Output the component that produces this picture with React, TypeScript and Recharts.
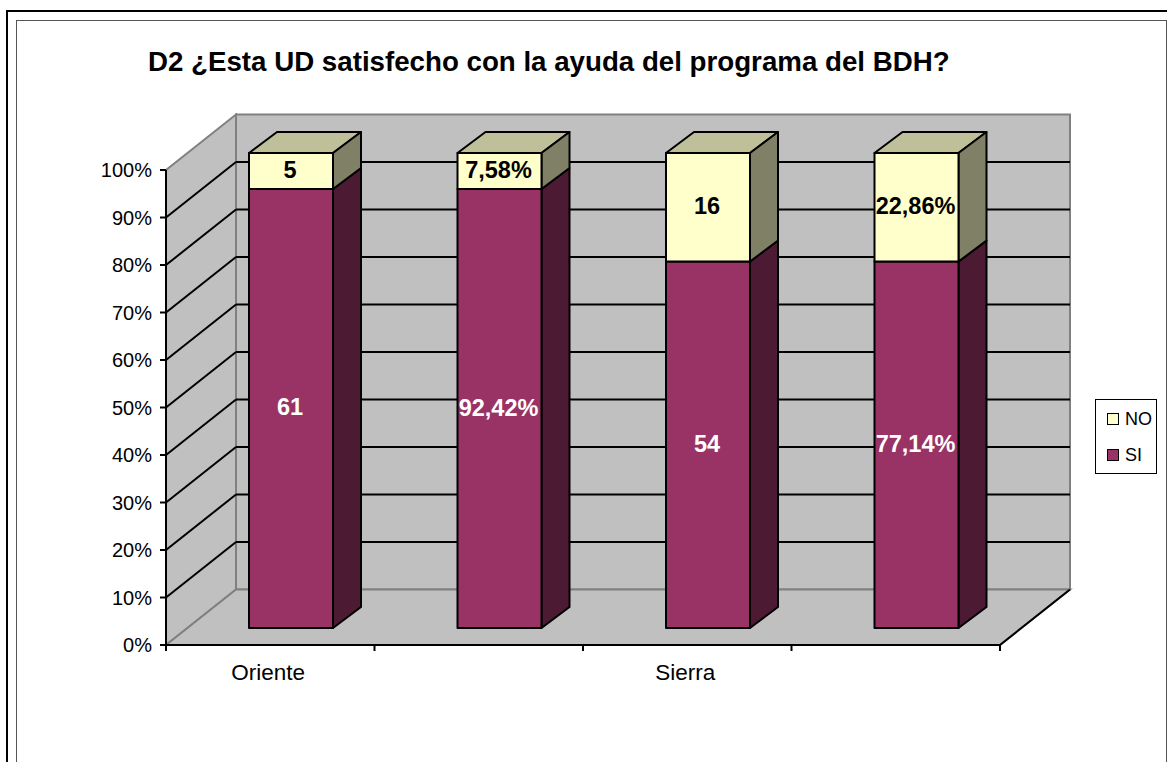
import React from 'react';
import {
  BarChart,
  Bar,
  XAxis,
  YAxis,
  CartesianGrid,
  Legend,
  LabelList,
} from 'recharts';

const categories = ['Oriente', '', 'Sierra', ''];
const siValues = [61, 92.42, 54, 77.14];
const noValues = [5, 7.58, 16, 22.86];
const siLabels = ['61', '92,42%', '54', '77,14%'];
const noLabels = ['5', '7,58%', '16', '22,86%'];
const yTicks = [0, 0.1, 0.2, 0.3, 0.4, 0.5, 0.6, 0.7, 0.8, 0.9, 1];

const chartData = categories.map((name, i) => ({
  name,
  SI: siValues[i],
  NO: noValues[i],
  siLabel: siLabels[i],
  noLabel: noLabels[i],
}));

const FONT = '"Liberation Sans", Arial, sans-serif';

// front plane of the fake 3D box
const LEFT = 166;
const RIGHT = 1000;
const TOP = 170;
const BOTTOM = 645;
const BAND = (RIGHT - LEFT) / categories.length;
// wall depth and where the bars sit inside it
const DEPTH_X = 70;
const DEPTH_Y = 55.5;
const BAR_SHIFT_X = 21;
const BAR_SHIFT_Y = 17;
const BAR_DEPTH_X = 28;
const BAR_DEPTH_Y = 21;

const COLORS = {
  si: '#993366',
  siSide: '#4C1A33',
  no: '#FFFFCC',
  noTop: '#BFBF99',
  noSide: '#808066',
  wall: '#C0C0C0',
  wallEdge: '#808080',
};

// sits in its own svg behind the transparent chart
const Walls = () => (
  <svg width={1167} height={762} style={{ position: 'absolute', left: 0, top: 0 }}>
    <polygon
      points={`${LEFT},${TOP} ${LEFT + DEPTH_X},${TOP - DEPTH_Y} ${LEFT + DEPTH_X},${BOTTOM - DEPTH_Y} ${LEFT},${BOTTOM}`}
      fill={COLORS.wall}
      stroke={COLORS.wallEdge}
      strokeWidth={2}
    />
    <rect
      x={LEFT + DEPTH_X}
      y={TOP - DEPTH_Y}
      width={RIGHT - LEFT}
      height={BOTTOM - TOP}
      fill={COLORS.wall}
      stroke={COLORS.wallEdge}
      strokeWidth={2}
    />
    <polygon
      points={`${LEFT},${BOTTOM} ${LEFT + DEPTH_X},${BOTTOM - DEPTH_Y} ${RIGHT + DEPTH_X},${BOTTOM - DEPTH_Y} ${RIGHT},${BOTTOM}`}
      fill={COLORS.wall}
      stroke={COLORS.wallEdge}
      strokeWidth={2}
    />
    <line x1={RIGHT} y1={BOTTOM} x2={RIGHT + DEPTH_X} y2={BOTTOM - DEPTH_Y} stroke="#000" strokeWidth={2} />
    <line x1={LEFT} y1={TOP} x2={LEFT} y2={BOTTOM} stroke="#000" strokeWidth={2} />
  </svg>
);

// grid line runs along the side wall, then across the back wall
const gridLine = (props: any) => {
  const { x1, x2, y1, index } = props;
  const isEdge = Math.abs(y1 - TOP) < 1 || Math.abs(y1 - BOTTOM) < 1;
  if (isEdge) return <g key={`grid-${index}`} />;
  return (
    <g key={`grid-${index}`} stroke="#000" strokeWidth={2}>
      <line x1={x1} y1={y1} x2={x1 + DEPTH_X} y2={y1 - DEPTH_Y} />
      <line x1={x1 + DEPTH_X} y1={y1 - DEPTH_Y} x2={x2 + DEPTH_X} y2={y1 - DEPTH_Y} />
    </g>
  );
};

const Box3D = (props: any) => {
  const { x, y, width, height, fill, side, top } = props;
  const fx = x + BAR_SHIFT_X;
  const fy = y - BAR_SHIFT_Y;
  const dx = BAR_DEPTH_X;
  const dy = BAR_DEPTH_Y;
  return (
    <g stroke="#000" strokeWidth={2} strokeLinejoin="round">
      {top && (
        <polygon
          points={`${fx},${fy} ${fx + dx},${fy - dy} ${fx + width + dx},${fy - dy} ${fx + width},${fy}`}
          fill={top}
        />
      )}
      <polygon
        points={`${fx + width},${fy} ${fx + width + dx},${fy - dy} ${fx + width + dx},${fy + height - dy} ${fx + width},${fy + height}`}
        fill={side}
      />
      <rect x={fx} y={fy} width={width} height={height} fill={fill} />
    </g>
  );
};

const barLabel = (color: string) => (props: any) => {
  const { x, y, width, height, value } = props;
  return (
    <text
      x={x + BAR_SHIFT_X + width / 2 - 1}
      y={y - BAR_SHIFT_Y + height / 2 - 1}
      textAnchor="middle"
      dominantBaseline="central"
      fontFamily={FONT}
      fontWeight="bold"
      fontSize={23.5}
      fill={color}
    >
      {value}
    </text>
  );
};

const CategoryTick = (props: any) => {
  const { x, y, payload, index } = props;
  return (
    <g>
      <line x1={x - BAND / 2} y1={BOTTOM} x2={x - BAND / 2} y2={BOTTOM + 6} stroke="#000" strokeWidth={2} />
      {index === categories.length - 1 && (
        <line x1={x + BAND / 2} y1={BOTTOM} x2={x + BAND / 2} y2={BOTTOM + 6} stroke="#000" strokeWidth={2} />
      )}
      <text x={x - 2} y={y + 27} textAnchor="middle" fontFamily={FONT} fontSize={22.5} fill="#000">
        {payload.value}
      </text>
    </g>
  );
};

const LegendBox = () => {
  const items = [
    { name: 'NO', color: COLORS.no },
    { name: 'SI', color: COLORS.si },
  ];
  return (
    <div
      style={{
        width: 62,
        height: 75,
        boxSizing: 'border-box',
        border: '1.5px solid #000',
        background: '#fff',
        fontFamily: FONT,
        fontSize: 18,
        color: '#000',
        position: 'relative',
      }}
    >
      {items.map((it, i) => (
        <div key={it.name} style={{ position: 'absolute', left: 11, top: 9 + i * 36, height: 20, lineHeight: '20px' }}>
          <span
            style={{
              position: 'absolute',
              left: 0,
              top: 4,
              width: 10,
              height: 10,
              background: it.color,
              border: '1.5px solid #000',
            }}
          />
          <span style={{ position: 'absolute', left: 18, top: 0 }}>{it.name}</span>
        </div>
      ))}
    </div>
  );
};

export default function App() {
  return (
    <div style={{ position: 'absolute', left: 0, top: 0, width: 1167, height: 762, overflow: 'hidden', background: '#fff' }}>
      <div style={{ position: 'absolute', left: 6, top: 10, width: 1300, height: 900, border: '2.5px solid #000', boxSizing: 'border-box' }} />
      <div style={{ position: 'absolute', left: 16, top: 20, width: 1151, height: 900, border: '1.5px solid #555', boxSizing: 'border-box' }} />
      <Walls />
      <BarChart
        width={1167}
        height={762}
        data={chartData}
        stackOffset="expand"
        margin={{ top: TOP, right: 1167 - RIGHT - 62, bottom: 67, left: LEFT - 66 }}
        style={{ position: 'absolute', left: 0, top: 0 }}
      >
        <CartesianGrid vertical={false} horizontal={gridLine} />
        <XAxis
          dataKey="name"
          height={50}
          interval={0}
          axisLine={{ stroke: '#000', strokeWidth: 2 }}
          tickLine={false}
          tick={<CategoryTick />}
        />
        <YAxis
          width={66}
          domain={[0, 1]}
          ticks={yTicks}
          interval={0}
          tickFormatter={(v: number) => `${Math.round(v * 100)}%`}
          axisLine={{ stroke: '#000', strokeWidth: 2 }}
          tickLine={{ stroke: '#000', strokeWidth: 2 }}
          tickSize={6}
          tickMargin={8}
          tick={{ fontFamily: FONT, fontSize: 20, fill: '#000' }}
        />
        <Legend
          layout="vertical"
          align="right"
          verticalAlign="middle"
          wrapperStyle={{ left: 1095, top: 399, right: 'auto', width: 62, height: 75 }}
          content={<LegendBox />}
        />
        <Bar
          dataKey="SI"
          stackId="a"
          barSize={84}
          fill={COLORS.si}
          isAnimationActive={false}
          shape={<Box3D side={COLORS.siSide} />}
        >
          <LabelList dataKey="siLabel" content={barLabel('#fff')} />
        </Bar>
        <Bar
          dataKey="NO"
          stackId="a"
          barSize={84}
          fill={COLORS.no}
          isAnimationActive={false}
          shape={<Box3D side={COLORS.noSide} top={COLORS.noTop} />}
        >
          <LabelList dataKey="noLabel" content={barLabel('#000')} />
        </Bar>
        <text x={148} y={71} fontFamily={FONT} fontWeight="bold" fontSize={27.7} fill="#000">
          D2 ¿Esta UD satisfecho con la ayuda del programa del BDH?
        </text>
      </BarChart>
    </div>
  );
}
